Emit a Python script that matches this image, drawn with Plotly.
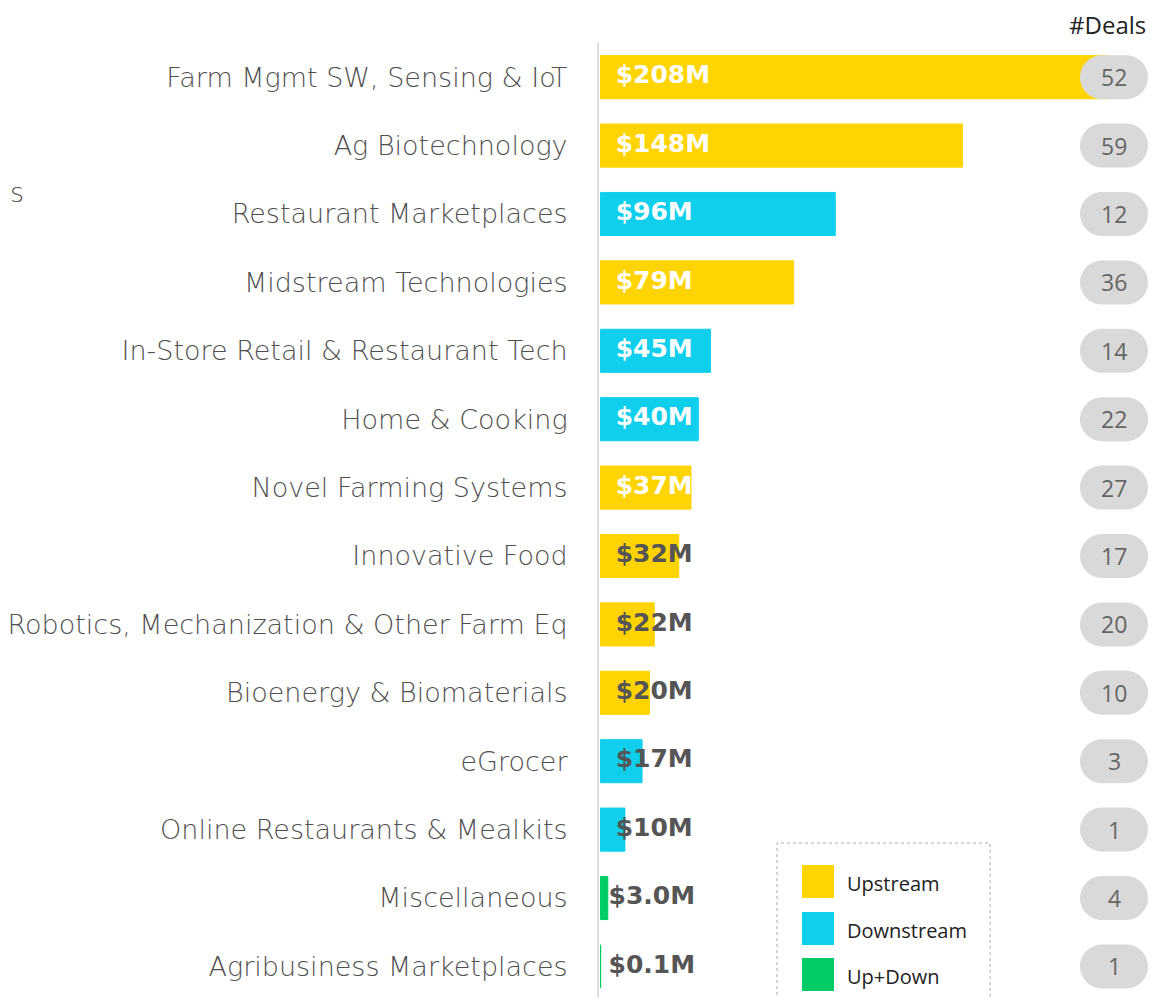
import plotly.graph_objects as go

categories = [
    "Farm Mgmt SW, Sensing & IoT",
    "Ag Biotechnology",
    "Restaurant Marketplaces",
    "Midstream Technologies",
    "In-Store Retail & Restaurant Tech",
    "Home & Cooking",
    "Novel Farming Systems",
    "Innovative Food",
    "Robotics, Mechanization & Other Farm Eq",
    "Bioenergy & Biomaterials",
    "eGrocer",
    "Online Restaurants & Mealkits",
    "Miscellaneous",
    "Agribusiness Marketplaces",
]
funding = [208, 148, 96, 79, 45, 40, 37, 32, 22, 20, 17, 10, 3.0, 0.1]
funding_labels = ["$208M", "$148M", "$96M", "$79M", "$45M", "$40M", "$37M",
                  "$32M", "$22M", "$20M", "$17M", "$10M", "$3.0M", "$0.1M"]
stream = ["Upstream", "Upstream", "Downstream", "Upstream", "Downstream", "Downstream",
          "Upstream", "Upstream", "Upstream", "Upstream", "Downstream", "Downstream",
          "Up+Down", "Up+Down"]
deals = [52, 59, 12, 36, 14, 22, 27, 17, 20, 10, 3, 1, 4, 1]
legend_names = ["Upstream", "Downstream", "Up+Down"]

colors = {"Upstream": "#FFD400", "Downstream": "#0FCFEC", "Up+Down": "#00CC66"}

OFF = 8  # page body margin
W, H = 1157 - OFF, 1005 - 2 * OFF
L, R, T, B = 599 - OFF, 0, 43 - OFF, 0
plot_w = W - L - R
plot_h = H - T - B
PX_PER_M = 2.446
ROW_PX = 68.4
xmax = plot_w / PX_PER_M


def px2paper_x(px):
    return (px - OFF - L) / plot_w


def py2paper_y(py):
    return (H - B - (py - OFF)) / plot_h


fig = go.Figure()

bar_cols = [colors[s] for s in stream]
fig.add_trace(go.Bar(
    x=funding, y=categories, orientation="h",
    marker=dict(color=bar_cols, line=dict(width=1, color=bar_cols)),
    showlegend=False, hoverinfo="skip",
))

# value labels
label_x = [6.2 if v >= 5 else 3.3 for v in funding]
label_col = ["#FFFFFF" if v >= 35 else "#555555" for v in funding]
fig.add_trace(go.Scatter(
    x=label_x, y=categories, mode="text", text=funding_labels,
    textposition="middle right",
    textfont=dict(family="DejaVu Sans", size=25, color=label_col, weight="bold"),
    showlegend=False, hoverinfo="skip", cliponaxis=False,
))

shapes = []
annotations = []

# deal count pills
pill_x = px2paper_x(1114)
hw, hh = 34, 22
st = hw - hh
k = 0.5523 * hh
pill_path = (f"M {-st},{-hh} L {st},{-hh} C {st+k},{-hh} {hw},{-k} {hw},0 "
             f"C {hw},{k} {st+k},{hh} {st},{hh} L {-st},{hh} "
             f"C {-st-k},{hh} {-hw},{k} {-hw},0 C {-hw},{-k} {-st-k},{-hh} {-st},{-hh} Z")
for cat, d in zip(categories, deals):
    shapes.append(dict(type="path", xref="paper", yref="y", xsizemode="pixel", ysizemode="pixel",
                       xanchor=pill_x, yanchor=cat, path=pill_path,
                       fillcolor="#D9D9D9", line=dict(width=0), layer="above"))
    annotations.append(dict(x=pill_x, y=cat, xref="paper", yref="y", text=str(d), showarrow=False,
                            xanchor="center", yanchor="middle",
                            font=dict(family="Open Sans", size=23, color="#666666")))

annotations.append(dict(x=px2paper_x(1148), y=py2paper_y(24), xref="paper", yref="paper",
                        text="#Deals", showarrow=False, xanchor="right", yanchor="middle",
                        font=dict(family="Open Sans", size=24, color="#222222")))
annotations.append(dict(x=px2paper_x(8), y=py2paper_y(193), xref="paper", yref="paper",
                        text="s", showarrow=False, xanchor="left", yanchor="middle",
                        font=dict(family="DejaVu Sans", size=27, color="#555555", weight=300)))

# legend box
shapes.append(dict(type="rect", xref="paper", yref="paper",
                   x0=px2paper_x(777), x1=px2paper_x(990), y0=py2paper_y(1012), y1=py2paper_y(843),
                   line=dict(color="#AAAAAA", width=1, dash="dot"), fillcolor="rgba(0,0,0,0)",
                   layer="above"))
for name, cy in zip(legend_names, [881.5, 928.5, 974.5]):
    shapes.append(dict(type="rect", xref="paper", yref="paper",
                       x0=px2paper_x(802), x1=px2paper_x(834),
                       y0=py2paper_y(cy + 16.5), y1=py2paper_y(cy - 16.5),
                       fillcolor=colors[name], line=dict(width=0), layer="above"))
    annotations.append(dict(x=px2paper_x(845), y=py2paper_y(cy + 2), xref="paper", yref="paper",
                            text=name, showarrow=False, xanchor="left", yanchor="middle",
                            font=dict(family="Open Sans", size=20, color="#222222")))

fig.update_layout(
    width=W, height=H,
    margin=dict(l=L, r=R, t=T, b=B, pad=0),
    paper_bgcolor="white", plot_bgcolor="white",
    bargap=0.37,
    shapes=shapes, annotations=annotations,
    xaxis=dict(range=[-0.6, xmax - 0.6], visible=False, fixedrange=True),
    yaxis=dict(categoryorder="array", categoryarray=categories,
               range=[-0.5 + plot_h / ROW_PX, -0.5],
               showline=True, linecolor="#DDDDDD", linewidth=2, showgrid=False,
               ticks="", ticklabelstandoff=24,
               tickfont=dict(family="DejaVu Sans", size=27, color="#505050", weight=300)),
    showlegend=False,
)

fig.write_html("out.html")
